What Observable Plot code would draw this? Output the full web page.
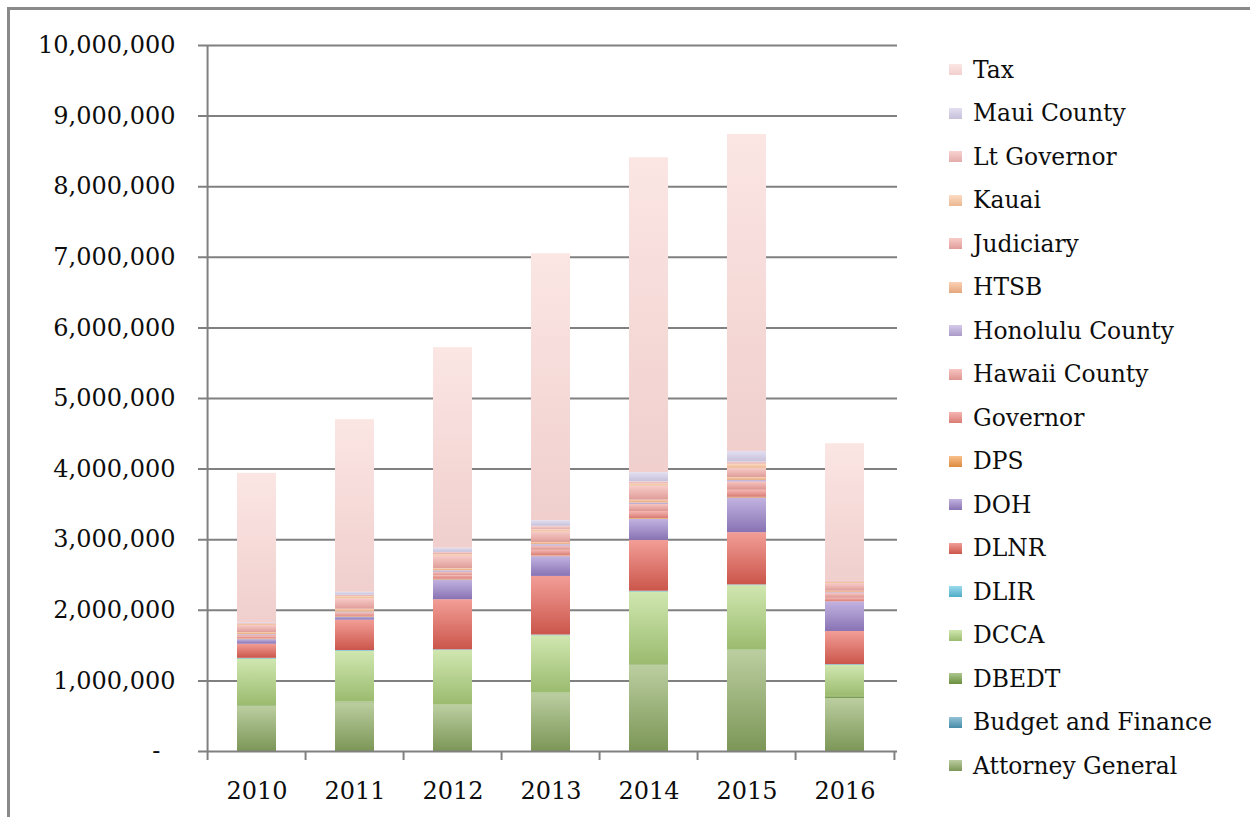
<!DOCTYPE html>
<html>
<head>
<meta charset="utf-8">
<script src="https://cdn.jsdelivr.net/npm/d3@7"></script>
<script src="https://cdn.jsdelivr.net/npm/@observablehq/plot@0.6"></script>
<style>
  body { margin: 0; background: #fff; overflow: hidden; }
  #wrap { position: relative; width: 1250px; height: 817px; overflow: hidden; background: #fff; }
  #frame { position: absolute; left: 7px; top: 7px; width: 1300px; height: 900px; border: 3px solid #8a8a8a; box-sizing: border-box; pointer-events: none; }
  #chart { position: absolute; left: 0; top: 0; }
  #legend { position: absolute; left: 949px; top: 48px; font-family: "DejaVu Serif", serif; font-size: 23.4px; color: #0d0d0d; }
  .item { height: 43.5px; display: flex; align-items: center; white-space: nowrap; }
  .sw { width: 13px; height: 11px; margin-right: 11px; flex: none; }
</style>
</head>
<body>
<div id="wrap">
  <div id="chart"></div>
  <div id="legend"></div>
  <div id="frame"></div>
</div>
<script>
// ---- data ----
const years = ["2010", "2011", "2012", "2013", "2014", "2015", "2016"];
const agencies = ["Attorney General", "Budget and Finance", "DBEDT", "DCCA", "DLIR", "DLNR", "DOH", "DPS",
  "Governor", "Hawaii County", "Honolulu County", "HTSB", "Judiciary", "Kauai", "Lt Governor", "Maui County", "Tax"];
const agencyColors = ["#92b066", "#4f9dbd", "#7aa548", "#b3d880", "#5cc3e2", "#ea6357", "#9d85cf", "#f59a45",
  "#f08a82", "#f2a29c", "#bcaade", "#f8b587", "#f4aca7", "#fbc59c", "#f3b8b5", "#d2cbe6", "#f9d6d4"];
const shade = [0.45, 0.35, 0.4, 0.4, 0.35, 0.4, 0.4, 0.3, 0.3, 0.25, 0.3, 0.25, 0.25, 0.2, 0.2, 0.15, 0.1];

const attorneyGeneral = [640000, 690000, 650000, 820000, 1220000, 1430000, 750000];
const budgetAndFinance = [0, 0, 0, 0, 0, 0, 0];
const dbedt = [10000, 10000, 10000, 10000, 10000, 10000, 30000];
const dcca = [660000, 720000, 770000, 810000, 1030000, 910000, 440000];
const dlir = [10000, 10000, 10000, 10000, 10000, 10000, 10000];
const dlnr = [200000, 430000, 710000, 830000, 720000, 740000, 470000];
const doh = [65000, 45000, 280000, 280000, 300000, 490000, 420000];
const dps = [10000, 10000, 10000, 10000, 10000, 10000, 0];
const governor = [30000, 30000, 50000, 80000, 100000, 100000, 50000];
const hawaiiCounty = [20000, 20000, 50000, 60000, 100000, 120000, 70000];
const honoluluCounty = [10000, 10000, 20000, 20000, 20000, 20000, 10000];
const htsb = [30000, 40000, 30000, 30000, 40000, 40000, 20000];
const judiciary = [100000, 150000, 180000, 150000, 200000, 130000, 110000];
const kauai = [20000, 30000, 20000, 30000, 30000, 60000, 20000];
const ltGovernor = [10000, 20000, 30000, 50000, 30000, 30000, 20000];
const mauiCounty = [10000, 40000, 60000, 80000, 130000, 150000, 0];
const tax = [2115000, 2445000, 2840000, 3780000, 4460000, 4490000, 1940000];

const seriesValues = [attorneyGeneral, budgetAndFinance, dbedt, dcca, dlir, dlnr, doh, dps,
  governor, hawaiiCounty, honoluluCounty, htsb, judiciary, kauai, ltGovernor, mauiCounty, tax];

const table = [];
agencies.forEach((a, i) => years.forEach((y, j) => table.push({year: y, agency: a, value: seriesValues[i][j]})));

// ---- layout ----
const W = 1250, H = 817, ML = 205, MR = 353, MT = 45, MB = 66;
const step = (W - ML - MR) / years.length;
const axisGray = "#808080";

const light = c => d3.interpolateRgb(c, "#ffffff")(0.38);
const dark = (c, k) => d3.color(c).darker(k).formatHex();
const gradIds = agencies.map((a, i) => "grad" + i);

const chart = Plot.plot({
  width: W, height: H,
  marginLeft: ML, marginRight: MR, marginTop: MT, marginBottom: MB,
  style: {fontFamily: "DejaVu Serif, serif", fontSize: "24px", color: "#0d0d0d", background: "transparent"},
  x: {domain: years, paddingInner: 0.6, paddingOuter: 0.3, tickSize: 0, tickPadding: 30, label: null},
  y: {domain: [0, 10000000], ticks: 10, tickSize: 0, tickPadding: 30, label: null,
      tickFormat: d => d === 0 ? "-\u00a0\u00a0" : d3.format(",")(d)},
  color: {domain: agencies, range: gradIds.map(id => `url(#${id})`)},
  marks: [
    Plot.ruleY(d3.range(1000000, 10000001, 1000000), {insetLeft: -7, stroke: axisGray, strokeWidth: 2}),
    Plot.barY(table, {x: "year", y: "value", fill: "agency", order: agencies}),
    Plot.ruleY([0], {insetLeft: -7, stroke: axisGray, strokeWidth: 2}),
    Plot.ruleX([years[0]], {y1: 0, y2: 10000000, dx: -step / 2, stroke: axisGray, strokeWidth: 2}),
    Plot.ruleX(years, {y1: 0, y2: 0, dx: -step / 2, insetBottom: -9, stroke: axisGray, strokeWidth: 2}),
    Plot.ruleX([years[years.length - 1]], {y1: 0, y2: 0, dx: step / 2, insetBottom: -9, stroke: axisGray, strokeWidth: 2})
  ]
});

// gradient definitions for the bar fills
const svg = d3.select(chart);
const defs = svg.insert("defs", ":first-child");
agencies.forEach((a, i) => {
  const g = defs.append("linearGradient").attr("id", gradIds[i]).attr("x1", 0).attr("y1", 0).attr("x2", 0).attr("y2", 1);
  g.append("stop").attr("offset", "0%").attr("stop-color", light(agencyColors[i]));
  g.append("stop").attr("offset", "100%").attr("stop-color", dark(agencyColors[i], shade[i]));
});
document.getElementById("chart").appendChild(chart);

// legend (top item is the last stacked series)
const legend = d3.select("#legend");
agencies.slice().reverse().forEach(a => {
  const i = agencies.indexOf(a);
  const item = legend.append("div").attr("class", "item");
  item.append("div").attr("class", "sw")
    .style("background", `linear-gradient(${light(agencyColors[i])}, ${dark(agencyColors[i], shade[i])})`);
  item.append("span").text(a);
});
</script>
</body>
</html>
